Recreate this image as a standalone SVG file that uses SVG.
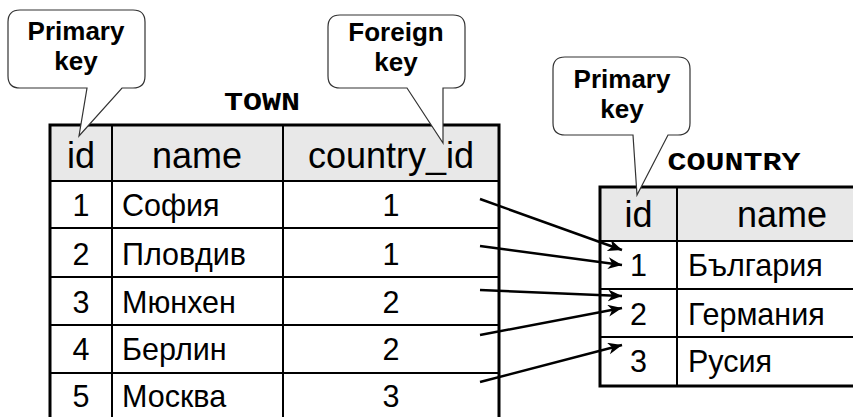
<svg xmlns="http://www.w3.org/2000/svg" width="853" height="417" viewBox="0 0 853 417">
<style>
.tbl{fill:none;stroke:#000;stroke-width:3}
.hdr{fill:#e8e8e8;stroke:none}
.grid{stroke:#000;stroke-width:2;fill:none}
.h{font-family:"Liberation Sans",Arial,sans-serif;font-size:36px;fill:#000}
.c{font-family:"Liberation Sans",Arial,sans-serif;font-size:30.5px;fill:#000}
.m{text-anchor:middle}
.title{font-family:"Courier New","Liberation Mono",monospace;font-weight:bold;font-size:26px;fill:#000}
.call{fill:#fff;stroke:#333;stroke-width:1.2}
.ct{font-family:"Liberation Sans",Arial,sans-serif;font-weight:bold;font-size:26px;fill:#000;text-anchor:middle}
.arr{stroke:#000;stroke-width:2.5;fill:none;marker-end:url(#ah)}
</style>
<defs>
<marker id="ah" markerUnits="userSpaceOnUse" markerWidth="16" markerHeight="14" refX="14" refY="6" orient="auto">
<path d="M0,0 L14,6 L0,12 L4,6 Z" fill="#000"/>
</marker>
</defs>
<rect width="853" height="417" fill="#fff"/>

<g id="town">
<rect class="hdr" x="50" y="125" width="449" height="56"/>
<line class="grid" x1="50" y1="181" x2="499" y2="181"/>
<line class="grid" x1="50" y1="228" x2="499" y2="228"/>
<line class="grid" x1="50" y1="277" x2="499" y2="277"/>
<line class="grid" x1="50" y1="325" x2="499" y2="325"/>
<line class="grid" x1="50" y1="373" x2="499" y2="373"/>
<line class="grid" x1="112" y1="125" x2="112" y2="420"/>
<line class="grid" x1="283" y1="125" x2="283" y2="420"/>
<rect class="tbl" x="50" y="125" width="449" height="300"/>
<text class="title" x="262" y="110" text-anchor="middle" textLength="76" lengthAdjust="spacingAndGlyphs">TOWN</text>
<text class="h m" x="81" y="168">id</text>
<text class="h m" x="197" y="168">name</text>
<text class="h m" x="391" y="168">country_id</text>
<text class="c m" x="81" y="216">1</text><text class="c" x="122" y="216">София</text><text class="c m" x="391" y="216">1</text>
<text class="c m" x="81" y="265">2</text><text class="c" x="122" y="265">Пловдив</text><text class="c m" x="391" y="265">1</text>
<text class="c m" x="81" y="313">3</text><text class="c" x="122" y="313">Мюнхен</text><text class="c m" x="391" y="313">2</text>
<text class="c m" x="81" y="360">4</text><text class="c" x="122" y="360">Берлин</text><text class="c m" x="391" y="360">2</text>
<text class="c m" x="81" y="407">5</text><text class="c" x="122" y="407">Москва</text><text class="c m" x="391" y="407">3</text>
</g>

<g id="country">
<rect class="hdr" x="600" y="187" width="260" height="54"/>
<line class="grid" x1="600" y1="241" x2="860" y2="241"/>
<line class="grid" x1="600" y1="289" x2="860" y2="289"/>
<line class="grid" x1="600" y1="337" x2="860" y2="337"/>
<line class="grid" x1="677" y1="187" x2="677" y2="386"/>
<rect class="tbl" x="600" y="187" width="270" height="199"/>
<text class="title" x="734" y="170" text-anchor="middle" textLength="133" lengthAdjust="spacingAndGlyphs">COUNTRY</text>
<text class="h m" x="638.5" y="227">id</text>
<text class="h m" x="782" y="227">name</text>
<text class="c m" x="638.5" y="276">1</text><text class="c" x="688" y="276">България</text>
<text class="c m" x="638.5" y="325">2</text><text class="c" x="688" y="325">Германия</text>
<text class="c m" x="638.5" y="372">3</text><text class="c" x="688" y="372">Русия</text>
</g>

<g id="callout-pk-town">
<path class="call" d="M20,10 H133 Q145,10 145,22 V76 Q145,88 133,88 H122 L79,136 L87,88 H20 Q8,88 8,76 V22 Q8,10 20,10 Z"/>
<text class="ct" x="76" y="40">Primary</text>
<text class="ct" x="76" y="70">key</text>
</g>

<g id="callout-fk">
<path class="call" d="M340,15 H453 Q465,15 465,27 V76 Q465,88 453,88 H443 L443,143 L407,88 H340 Q328,88 328,76 V27 Q328,15 340,15 Z"/>
<text class="ct" x="396" y="41">Foreign</text>
<text class="ct" x="396" y="71">key</text>
</g>

<g id="callout-pk-country">
<path class="call" d="M565,57 H678 Q690,57 690,69 V123 Q690,135 678,135 H668 L637,195 L633,135 H565 Q553,135 553,123 V69 Q553,57 565,57 Z"/>
<text class="ct" x="622" y="88">Primary</text>
<text class="ct" x="622" y="118">key</text>
</g>

<g id="connectors">
<line class="arr" x1="480" y1="199" x2="622" y2="250"/>
<line class="arr" x1="480" y1="246" x2="622" y2="265"/>
<line class="arr" x1="480" y1="290" x2="622" y2="296"/>
<line class="arr" x1="480" y1="335" x2="622" y2="308"/>
<line class="arr" x1="480" y1="382" x2="622" y2="345"/>
</g>
</svg>
